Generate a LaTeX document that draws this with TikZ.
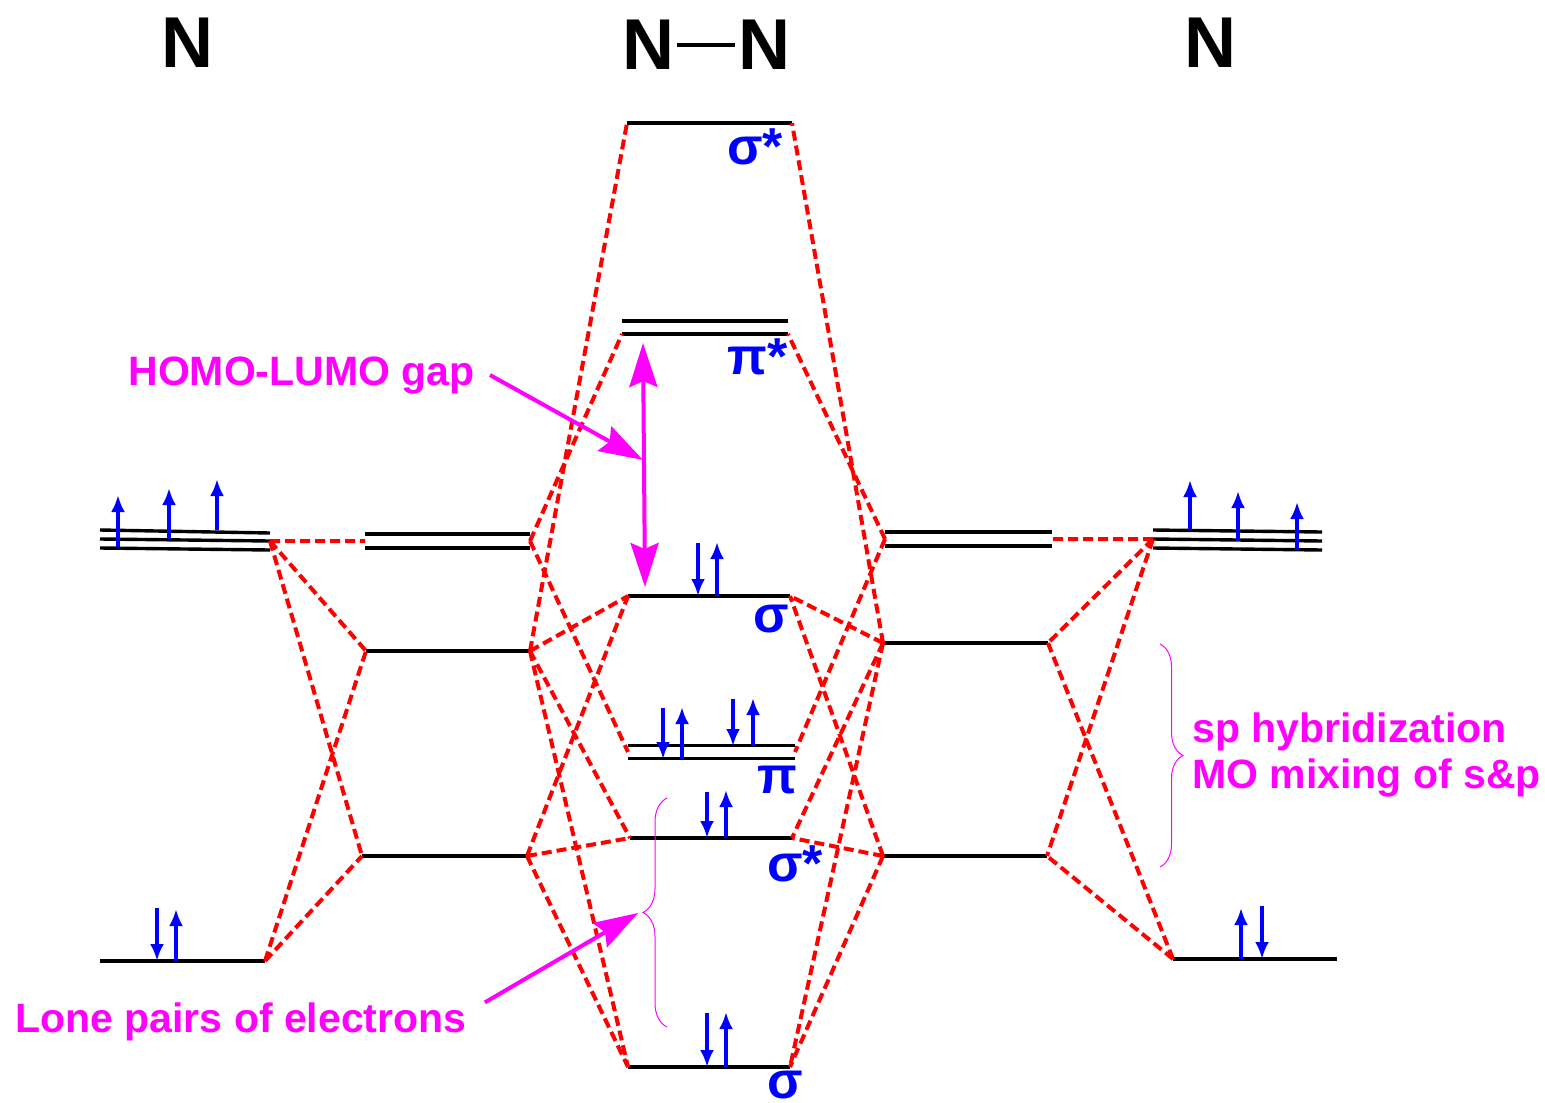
\documentclass[tikz,border=0pt]{standalone}
\usepackage{fontspec}
\setmainfont{Liberation Sans}
\usepackage{tikz}
\usetikzlibrary{arrows.meta,decorations.pathreplacing}
\definecolor{mag}{RGB}{255,0,255}
\definecolor{eblue}{RGB}{0,0,255}
\definecolor{cred}{RGB}{255,0,0}

\begin{document}
\begin{tikzpicture}[x=0.5pt,y=-0.5pt,>=stealth,
  lvl/.style={line width=1.7pt},
  corr/.style={cred,line width=2pt,dash pattern=on 5pt off 2.5pt},
  spin/.style={eblue,line width=1.8pt,-{Latex[length=8.5pt,width=7pt]}},
  pointer/.style={mag,line width=2pt,-{Stealth[length=22pt,width=14pt,inset=3pt]}},
  gapline/.style={mag,line width=2pt,{Stealth[length=22pt,width=14pt,inset=3pt]}-{Stealth[length=22pt,width=14pt,inset=3pt]}},
  orb/.style={eblue,inner sep=0pt,font=\fontsize{26}{30}\selectfont\bfseries},
  atom/.style={inner sep=0pt,font=\fontsize{36}{40}\selectfont\bfseries},
  note/.style={mag,inner sep=0pt,font=\fontsize{20.5}{23}\selectfont\bfseries},
  grp/.style={mag,line width=0.5pt,decorate,decoration={brace,amplitude=#1}}]
\useasboundingbox (0,0) rectangle (1545,1102);

% atoms
\node[atom] (NL) at (187,43) {N};
\node[atom] (N1) at (648,45) {N};
\node[atom] (N2) at (764,45) {N};
\node[atom] (NR) at (1210,43) {N};
\draw[line width=2.2pt] ([xshift=1.5pt]N1.east) -- ([xshift=-1.5pt]N2.west);

% level ends
\coordinate (Lp) at (270,541);
\coordinate (Ls) at (265,961);
\coordinate (Lpi-l) at (365,541);
\coordinate (Lpi-r) at (530,541);
\coordinate (Lsp1-l) at (366,651);
\coordinate (Lsp1-r) at (530,651);
\coordinate (Lsp2-l) at (362,856);
\coordinate (Lsp2-r) at (527,856);
\coordinate (su-l) at (627,123);
\coordinate (su-r) at (792,123);
\coordinate (pu-l) at (622,334);
\coordinate (pu-r) at (788,334);
\coordinate (sg-l) at (628,596);
\coordinate (sg-r) at (790,596);
\coordinate (pg-l) at (628,752);
\coordinate (pg-r) at (795,752);
\coordinate (sl-l) at (630,838);
\coordinate (sl-r) at (792,838);
\coordinate (sb-l) at (628,1067);
\coordinate (sb-r) at (790,1067);
\coordinate (Rpi-l) at (885,539);
\coordinate (Rpi-r) at (1052,539);
\coordinate (Rsp1-l) at (883,643);
\coordinate (Rsp1-r) at (1048,643);
\coordinate (Rsp2-l) at (883,856);
\coordinate (Rsp2-r) at (1047,856);
\coordinate (Rp) at (1153,539);
\coordinate (Rs) at (1173,959);

% levels
\draw[lvl] (100,530) -- (270,533) (100,539) -- (Lp) (100,548) -- (270,550);
\draw[lvl] (100,961) -- (Ls);
\draw[lvl] ([yshift=3.5pt]Lpi-l) -- ([yshift=3.5pt]Lpi-r) ([yshift=-3.5pt]Lpi-l) -- ([yshift=-3.5pt]Lpi-r);
\draw[lvl] (Lsp1-l) -- (Lsp1-r);
\draw[lvl] (Lsp2-l) -- (Lsp2-r);
\draw[lvl] (su-l) -- (su-r);
\draw[lvl] ([yshift=6.5pt]pu-l) -- ([yshift=6.5pt]pu-r) (pu-l) -- (pu-r);
\draw[lvl] (sg-l) -- (sg-r);
\draw[lvl] ([yshift=3.25pt]pg-l) -- ([yshift=3.25pt]pg-r) ([yshift=-3.25pt]pg-l) -- ([yshift=-3.25pt]pg-r);
\draw[lvl] (sl-l) -- (sl-r);
\draw[lvl] (sb-l) -- (sb-r);
\draw[lvl] ([yshift=3.5pt]Rpi-l) -- ([yshift=3.5pt]Rpi-r) ([yshift=-3.5pt]Rpi-l) -- ([yshift=-3.5pt]Rpi-r);
\draw[lvl] (Rsp1-l) -- (Rsp1-r);
\draw[lvl] (Rsp2-l) -- (Rsp2-r);
\draw[lvl] (1153,530) -- (1322,532) (Rp) -- (1322,541) (1153,548) -- (1322,550);
\draw[lvl] (Rs) -- (1337,959);

% correlation lines
\draw[corr] (Lp) -- (Lpi-l) (Lp) -- (Lsp1-l) (Lp) -- (Lsp2-l) (Ls) -- (Lsp1-l) (Ls) -- (Lsp2-l);
\draw[corr] (Lpi-r) -- (pu-l) (Lpi-r) -- (pg-l);
\draw[corr] (Lsp1-r) -- (su-l) (Lsp1-r) -- (sg-l) (Lsp1-r) -- (sl-l) (Lsp1-r) -- (sb-l);
\draw[corr] (Lsp2-r) -- (sg-l) (Lsp2-r) -- (sl-l) (Lsp2-r) -- (sb-l);
\draw[corr] (Rpi-l) -- (pu-r) (Rpi-l) -- (pg-r);
\draw[corr] (Rsp1-l) -- (su-r) (Rsp1-l) -- (sg-r) (Rsp1-l) -- (sl-r) (Rsp1-l) -- (sb-r);
\draw[corr] (Rsp2-l) -- (sg-r) (Rsp2-l) -- (sl-r) (Rsp2-l) -- (sb-r);
\draw[corr] (Rp) -- (Rpi-r) (Rp) -- (Rsp1-r) (Rp) -- (Rsp2-r) (Rs) -- (Rsp1-r) (Rs) -- (Rsp2-r);

% electrons
\draw[spin] (118,547) -- (118,495);
\draw[spin] (169,539) -- (169,488);
\draw[spin] (217,530) -- (217,479);
\draw[spin] (157,908) -- (157,961);
\draw[spin] (176,961) -- (176,909);
\draw[spin] (1190,530) -- (1190,480);
\draw[spin] (1238,541) -- (1238,491);
\draw[spin] (1297,550) -- (1297,502);
\draw[spin] (1241,959) -- (1241,908);
\draw[spin] (1262,906) -- (1262,959);
\draw[spin] (698,543) -- (698,596);
\draw[spin] (717,596) -- (717,542);
\draw[spin] (663,708) -- (663,759);
\draw[spin] (682,759) -- (682,707);
\draw[spin] (733,699) -- (733,746);
\draw[spin] (753,746) -- (753,698);
\draw[spin] (707,792) -- (707,838);
\draw[spin] (726,838) -- (726,790);
\draw[spin] (707,1013) -- (707,1067);
\draw[spin] (726,1067) -- (726,1012);

% MO labels
\node[orb] (su-lab) at (755,147) {σ*};
\node[orb] (pu-lab) at (758,357) {π*};
\node[orb] (sg-lab) at (771,619) {σ};
\node[orb] (pg-lab) at (777,780) {π};
\node[orb] (sl-lab) at (795,864) {σ*};
\node[orb,anchor=north] (sb-lab) at (785,1071) {σ};

% notes
\coordinate (gaptop) at (643,343);
\coordinate (gapbot) at (645,587);
\coordinate (gapmid) at (643,460);
\coordinate (lptip) at (638,913);
\draw[gapline] (gaptop) -- (gapbot);
\node[note,anchor=base west] (hl) at (128,385) {HOMO-LUMO gap};
\draw[pointer] ([xshift=7.5pt]hl.east) -- (gapmid);
\node[note,anchor=base west] (lp) at (15,1032) {Lone pairs of electrons};
\draw[pointer] ([xshift=9pt,yshift=9.5pt]lp.east) -- (lptip);
\draw[grp=12pt] (667,1027) -- (667,798);
\draw[grp=11.5pt] (1160,644) -- (1160,867);
\node[note,anchor=base west] (hyb) at (1192,742) {sp hybridization};
\node[note,anchor=base west] (mix) at (1192,788) {MO mixing of s\&p};
\end{tikzpicture}
\end{document}
